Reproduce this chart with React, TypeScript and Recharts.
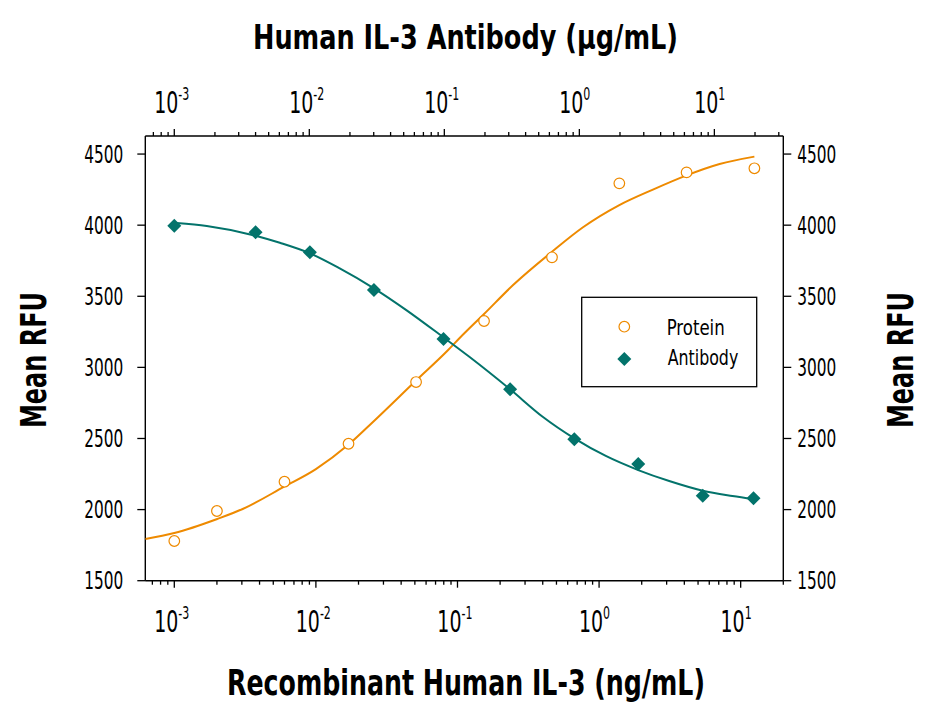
import React from 'react';
import { ScatterChart, Scatter, XAxis, YAxis } from 'recharts';

// measured points (bottom axis: protein ng/mL, top axis: antibody µg/mL)
const proteinConc = [0.001, 0.002, 0.006, 0.017, 0.051, 0.154, 0.465, 1.39, 4.15, 12.5];
const proteinRfu = [1779, 1990, 2196, 2463, 2897, 3326, 3774, 4294, 4371, 4400];
const antibodyConc = [0.001, 0.004, 0.0101, 0.0301, 0.0986, 0.307, 0.918, 2.73, 8.2, 19.5];
const antibodyRfu = [3996, 3950, 3809, 3544, 3199, 2846, 2494, 2320, 2098, 2079];

// fitted curves
const proteinFitConc = [0.000624, 0.001, 0.00201, 0.00304, 0.00597, 0.01, 0.0171, 0.0254, 0.0508, 0.0859, 0.104, 0.154, 0.247, 0.465, 0.77, 1.39, 2.4, 4.15, 7.1, 12.5];
const proteinFitRfu = [1793, 1835, 1934, 2004, 2161, 2285, 2459, 2618, 2906, 3122, 3208, 3375, 3579, 3813, 3985, 4141, 4250, 4350, 4430, 4482];
const antibodyFitConc = [0.00104, 0.00174, 0.004, 0.00605, 0.0101, 0.0168, 0.0301, 0.0523, 0.0986, 0.154, 0.307, 0.535, 0.918, 1.57, 2.73, 4.63, 8.2, 13.6, 19.5];
const antibodyFitRfu = [4015, 3994, 3926, 3876, 3802, 3696, 3556, 3403, 3211, 3073, 2846, 2653, 2501, 2377, 2278, 2201, 2133, 2096, 2074];

const yTicks = [1500, 2000, 2500, 3000, 3500, 4000, 4500];
const tickMantissas = [1, 2, 3, 4, 5, 6, 7, 8, 9];
const tickExponents = [-4, -3, -2, -1, 0, 1];

const bottomDomain = [0.000624, 20];
const topDomain = [0.00061, 32.4];
const yDomain = [1500, 4627];

const ORANGE = '#EE8A00';
const TEAL = '#03736B';
const FONT = "'Liberation Sans Narrow', 'DejaVu Sans Condensed', 'Arial Narrow', sans-serif";

const logTicks = (domain: number[]) => {
  const out: number[] = [];
  tickExponents.forEach((e) => {
    tickMantissas.forEach((m) => {
      const v = Number((m * Math.pow(10, e)).toPrecision(6));
      if (v >= domain[0] && v <= domain[1]) out.push(v);
    });
  });
  return out;
};

const isMajor = (v: number) => {
  const l = Math.log10(v);
  return Math.abs(l - Math.round(l)) < 1e-6;
};

const toPoints = (xs: number[], ys: number[]) => xs.map((x, i) => ({ x, y: ys[i] }));

// log ticks: long+label at decades, short marks in between
const makeXTick = (side: 'top' | 'bottom') => (props: any) => {
  const { x, y, payload } = props;
  const v = payload.value;
  const major = isMajor(v);
  const dir = side === 'bottom' ? 1 : -1;
  const len = major ? 7 : 4;
  const base = side === 'bottom' ? y + 51 : y - 23;
  const exp = Math.round(Math.log10(v));
  return (
    <g>
      <line x1={x} x2={x} y1={y} y2={y + dir * len} stroke="#000" strokeWidth={1.3} />
      {major && (
        <text transform={`translate(${x + 4} ${base}) scale(0.68 1)`} fontSize={31} fontFamily={FONT} fill="#000">
          <tspan x={-35.5}>10</tspan>
          <tspan dy={-13} fontSize={18}>{exp}</tspan>
        </text>
      )}
    </g>
  );
};

const LeftTick = (props: any) => {
  const { x, y, payload } = props;
  return (
    <g>
      <line x1={x - 8} x2={x} y1={y} y2={y} stroke="#000" strokeWidth={1.3} />
      <text x={x - 22} y={y} dy="0.36em" textAnchor="end" fontSize={24} fontFamily={FONT} textLength={39} lengthAdjust="spacingAndGlyphs">
        {payload.value}
      </text>
    </g>
  );
};

const RightTick = (props: any) => {
  const { x, y, payload } = props;
  return (
    <g>
      <line x1={x} x2={x + 8} y1={y} y2={y} stroke="#000" strokeWidth={1.3} />
      <text x={x + 14} y={y} dy="0.36em" textAnchor="start" fontSize={24} fontFamily={FONT} textLength={39} lengthAdjust="spacingAndGlyphs">
        {payload.value}
      </text>
    </g>
  );
};

const OpenCircle = (p: any) => <circle cx={p.cx} cy={p.cy} r={5.3} fill="#fff" stroke={ORANGE} strokeWidth={1.2} />;
const Diamond = (p: any) => {
  const s = 7;
  return <polygon points={`${p.cx},${p.cy - s} ${p.cx + s},${p.cy} ${p.cx},${p.cy + s} ${p.cx - s},${p.cy}`} fill={TEAL} />;
};
const NoDot = () => <g />;

export default function App() {
  const axisLine = { stroke: '#000', strokeWidth: 1.4 };
  return (
    <div style={{ position: 'absolute', left: 0, top: 0, width: 929, height: 713, background: '#fff' }}>
      <ScatterChart width={929} height={713} margin={{ top: 76, right: 85.7, bottom: 72.3, left: 85.3 }}>
        <XAxis
          xAxisId="bottom"
          orientation="bottom"
          dataKey="x"
          type="number"
          scale="log"
          domain={bottomDomain}
          allowDataOverflow
          ticks={logTicks(bottomDomain)}
          interval={0}
          height={60}
          tickSize={0}
          tickMargin={0}
          tickLine={false}
          axisLine={axisLine}
          tick={makeXTick('bottom')}
        />
        <XAxis
          xAxisId="top"
          orientation="top"
          dataKey="x"
          type="number"
          scale="log"
          domain={topDomain}
          allowDataOverflow
          ticks={logTicks(topDomain)}
          interval={0}
          height={60}
          tickSize={0}
          tickMargin={0}
          tickLine={false}
          axisLine={axisLine}
          tick={makeXTick('top')}
        />
        <YAxis
          yAxisId="left"
          orientation="left"
          dataKey="y"
          type="number"
          domain={yDomain}
          allowDataOverflow
          ticks={yTicks}
          interval={0}
          width={60}
          tickSize={0}
          tickMargin={0}
          tickLine={false}
          axisLine={axisLine}
          tick={LeftTick}
        />
        <YAxis
          yAxisId="right"
          orientation="right"
          dataKey="y"
          type="number"
          domain={yDomain}
          allowDataOverflow
          ticks={yTicks}
          interval={0}
          width={60}
          tickSize={0}
          tickMargin={0}
          tickLine={false}
          axisLine={axisLine}
          tick={RightTick}
        />
        <Scatter
          name="Protein fit"
          data={toPoints(proteinFitConc, proteinFitRfu)}
          xAxisId="bottom"
          yAxisId="left"
          line={{ stroke: ORANGE, strokeWidth: 2, fill: 'none' }}
          lineType="joint"
          lineJointType="monotoneX"
          shape={NoDot}
          isAnimationActive={false}
        />
        <Scatter
          name="Antibody fit"
          data={toPoints(antibodyFitConc, antibodyFitRfu)}
          xAxisId="top"
          yAxisId="left"
          line={{ stroke: TEAL, strokeWidth: 2, fill: 'none' }}
          lineType="joint"
          lineJointType="monotoneX"
          shape={NoDot}
          isAnimationActive={false}
        />
        <Scatter
          name="Protein"
          data={toPoints(proteinConc, proteinRfu)}
          xAxisId="bottom"
          yAxisId="left"
          shape={OpenCircle}
          isAnimationActive={false}
        />
        <Scatter
          name="Antibody"
          data={toPoints(antibodyConc, antibodyRfu)}
          xAxisId="top"
          yAxisId="left"
          shape={Diamond}
          isAnimationActive={false}
        />
      </ScatterChart>
      <svg width={929} height={713} style={{ position: 'absolute', left: 0, top: 0, pointerEvents: 'none' }}>
        <g fontFamily={FONT} fontWeight="bold" fill="#000">
          <text x={465.5} y={48.5} textAnchor="middle" fontSize={34} textLength={425} lengthAdjust="spacingAndGlyphs">
            Human IL-3 Antibody (μg/mL)
          </text>
          <text x={466} y={695} textAnchor="middle" fontSize={36} textLength={478} lengthAdjust="spacingAndGlyphs">
            Recombinant Human IL-3 (ng/mL)
          </text>
          <text x={46} y={360} textAnchor="middle" fontSize={36} transform="rotate(-90 46 360)" textLength={136} lengthAdjust="spacingAndGlyphs">
            Mean RFU
          </text>
          <text x={913} y={360} textAnchor="middle" fontSize={36} transform="rotate(-90 913 360)" textLength={136} lengthAdjust="spacingAndGlyphs">
            Mean RFU
          </text>
        </g>
        <rect x={581.7} y={297.3} width={175} height={89.4} fill="#fff" stroke="#000" strokeWidth={1.3} />
        <circle cx={624.3} cy={326.7} r={5.3} fill="#fff" stroke={ORANGE} strokeWidth={1.2} />
        <polygon points="624.3,352 631.3,359 624.3,366 617.3,359" fill={TEAL} />
        <g fontFamily={FONT} fontSize={22} fill="#000">
          <text x={666.7} y={335} textLength={58} lengthAdjust="spacingAndGlyphs">Protein</text>
          <text x={667.7} y={365} textLength={70.6} lengthAdjust="spacingAndGlyphs">Antibody</text>
        </g>
      </svg>
    </div>
  );
}
